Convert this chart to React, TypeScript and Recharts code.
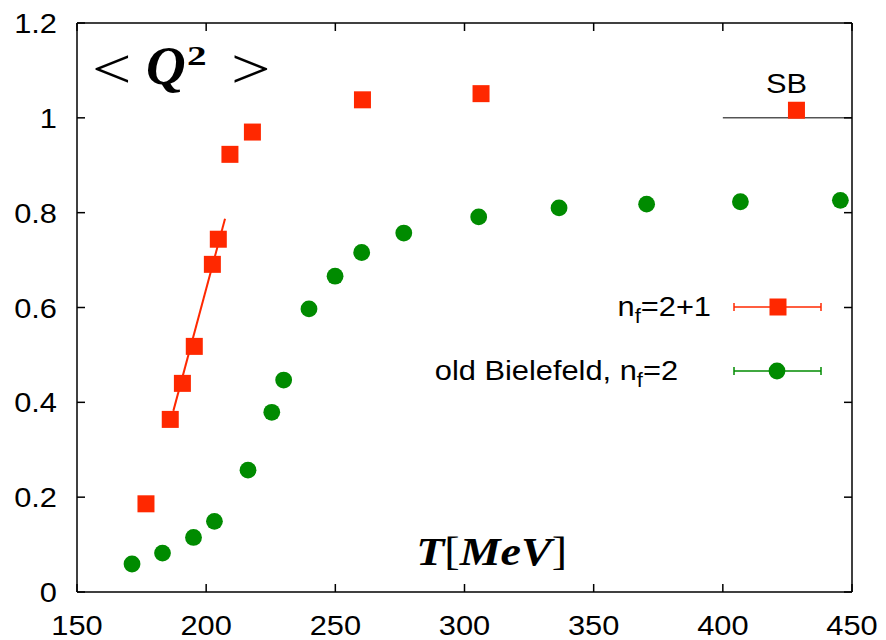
import React from 'react';
import { ScatterChart, Scatter, XAxis, YAxis, ReferenceLine, Legend, Label } from 'recharts';

// n_f = 2+1 (red squares)
const nf21T = [176.7, 186.1, 190.8, 195.4, 202.4, 204.7, 209.2, 217.9, 260.5, 306.4, 428.5];
const nf21Q = [0.186, 0.364, 0.44, 0.518, 0.691, 0.744, 0.923, 0.97, 1.038, 1.051, 1.016];

// old Bielefeld, n_f = 2 (green circles)
const bieT = [171.3, 183.1, 195.1, 203.2, 216.2, 225.4, 230.0, 239.8, 249.9, 260.2, 276.5, 305.5, 336.6, 370.5, 406.8, 445.5];
const bieQ = [0.059, 0.082, 0.115, 0.149, 0.257, 0.379, 0.447, 0.597, 0.666, 0.716, 0.757, 0.791, 0.81, 0.818, 0.823, 0.826];

// linear fit through the transition region
const fitT = [187.3, 207.3];
const fitQ = [0.382, 0.787];

// Stefan-Boltzmann limit
const sbT = [400, 450];
const sbQ = 1;

const xTicks = [150, 200, 250, 300, 350, 400, 450];
const yTicks = [0, 0.2, 0.4, 0.6, 0.8, 1, 1.2];

const RED = '#ff2800';
const GREEN = '#008b00';
const SANS = '"Liberation Sans", Arial, Helvetica, sans-serif';
const SERIF = '"Liberation Serif", "Times New Roman", serif';
const PLOT_TOP = 23;
const PLOT_RIGHT = 852;
const TICK = 8;

const nf21 = nf21T.map((T, i) => ({ T, Q: nf21Q[i] }));
const bie = bieT.map((T, i) => ({ T, Q: bieQ[i] }));
const fit = fitT.map((T, i) => ({ T, Q: fitQ[i] }));

const Square = (props: any) => {
  const { cx, cy } = props;
  return <rect x={cx - 8.5} y={cy - 8.5} width={17} height={17} fill={RED} />;
};

const Dot = (props: any) => {
  const { cx, cy } = props;
  return <circle cx={cx} cy={cy} r={8.4} fill={GREEN} />;
};

const Nothing = () => <g />;

const XTick = (props: any) => {
  const { x, y, payload } = props;
  return (
    <g>
      <line x1={x} x2={x} y1={y} y2={y - TICK} stroke="#000" strokeWidth={1.5} />
      <line x1={x} x2={x} y1={PLOT_TOP} y2={PLOT_TOP + TICK} stroke="#000" strokeWidth={1.5} />
      <text
        transform={`translate(${x},${y + 43}) scale(1.1,1)`}
        textAnchor="middle"
        fontFamily={SANS}
        fontSize={28}
        fill="#000"
      >
        {payload.value}
      </text>
    </g>
  );
};

const YTick = (props: any) => {
  const { x, y, payload } = props;
  return (
    <g>
      <line x1={x} x2={x + TICK} y1={y} y2={y} stroke="#000" strokeWidth={1.5} />
      <line x1={PLOT_RIGHT} x2={PLOT_RIGHT - TICK} y1={y} y2={y} stroke="#000" strokeWidth={1.5} />
      <text
        transform={`translate(${x - 20},${y + 10}) scale(1.1,1)`}
        textAnchor="end"
        fontFamily={SANS}
        fontSize={28}
        fill="#000"
      >
        {String(payload.value)}
      </text>
    </g>
  );
};

const XTitle = (props: any) => {
  const { viewBox } = props;
  const cx = viewBox.x + viewBox.width * 0.535;
  const by = viewBox.y - 27;
  return (
    <text
      transform={`translate(${cx},${by}) scale(1.15,1)`}
      textAnchor="middle"
      fontFamily={SERIF}
      fontSize={40}
      fill="#000"
    >
      <tspan fontWeight="bold" fontStyle="italic">T</tspan>
      <tspan>[</tspan>
      <tspan fontWeight="bold" fontStyle="italic">MeV</tspan>
      <tspan>]</tspan>
    </text>
  );
};

const YTitle = (props: any) => {
  const { viewBox } = props;
  const left = viewBox.x + viewBox.width;
  const top = viewBox.y;
  return (
    <g fontFamily={SERIF} fill="#000">
      <text transform={`translate(${left + 15},${top + 65}) scale(1.25,1)`} fontSize={56}>&lt;</text>
      <text x={left + 69} y={top + 61} fontSize={55} fontWeight="bold" fontStyle="italic">Q</text>
      <text transform={`translate(${left + 110},${top + 42}) scale(1.4,1)`} fontSize={28} fontWeight="bold">2</text>
      <text transform={`translate(${left + 154},${top + 65}) scale(1.25,1)`} fontSize={56}>&gt;</text>
    </g>
  );
};

const SBLabel = (props: any) => {
  const { viewBox } = props;
  return (
    <text
      transform={`translate(${viewBox.x + viewBox.width / 2 - 1},${viewBox.y - 25}) scale(1.1,1)`}
      textAnchor="middle"
      fontFamily={SANS}
      fontSize={28}
      fill="#000"
    >
      SB
    </text>
  );
};

const legendRows = [
  { main: 'n', sub: 'f', rest: '=2+1', color: RED, marker: 'square', textEnd: 711, y: 307 },
  { main: 'old Bielefeld, n', sub: 'f', rest: '=2', color: GREEN, marker: 'circle', textEnd: 678, y: 371 },
];

const renderLegend = () => (
  <svg width={886} height={640} style={{ display: 'block' }}>
    {legendRows.map((r) => (
      <g key={r.rest}>
        <text
          transform={`translate(${r.textEnd},${r.y + 9}) scale(1.1,1)`}
          textAnchor="end"
          fontFamily={SANS}
          fontSize={28}
          fill="#000"
        >
          <tspan>{r.main}</tspan>
          <tspan fontSize={20} dy={7}>{r.sub}</tspan>
          <tspan dy={-7}>{r.rest}</tspan>
        </text>
        <line x1={734} x2={821} y1={r.y} y2={r.y} stroke={r.color} strokeWidth={1.5} />
        <line x1={734} x2={734} y1={r.y - 4} y2={r.y + 4} stroke={r.color} strokeWidth={1.5} />
        <line x1={821} x2={821} y1={r.y - 4} y2={r.y + 4} stroke={r.color} strokeWidth={1.5} />
        {r.marker === 'square' ? (
          <rect x={778 - 8.5} y={r.y - 8.5} width={17} height={17} fill={r.color} />
        ) : (
          <circle cx={777} cy={r.y} r={8.4} fill={r.color} />
        )}
      </g>
    ))}
  </svg>
);

export default function App() {
  return (
    <div style={{ position: 'absolute', left: 0, top: 0, width: 886, height: 640, background: '#fff' }}>
      <ScatterChart width={886} height={640} margin={{ top: 23, right: 34, bottom: 8, left: 17 }}>
        <XAxis
          type="number"
          dataKey="T"
          domain={[150, 450]}
          ticks={xTicks}
          height={40}
          tickSize={0}
          tickMargin={0}
          tickLine={false}
          axisLine={{ stroke: '#000', strokeWidth: 1.5 }}
          tick={<XTick />}
          interval={0}
        >
          <Label content={<XTitle />} />
        </XAxis>
        <YAxis
          type="number"
          dataKey="Q"
          domain={[0, 1.2]}
          ticks={yTicks}
          width={60}
          tickSize={0}
          tickMargin={0}
          tickLine={false}
          axisLine={{ stroke: '#000', strokeWidth: 1.5 }}
          tick={<YTick />}
          interval={0}
        >
          <Label content={<YTitle />} />
        </YAxis>
        <ReferenceLine y={1.2} stroke="#000" strokeWidth={1.5} />
        <ReferenceLine x={450} stroke="#000" strokeWidth={1.5} />
        <ReferenceLine
          segment={[{ x: sbT[0], y: sbQ }, { x: sbT[1], y: sbQ }]}
          stroke="#000"
          strokeWidth={1}
          label={<SBLabel />}
        />
        <Scatter
          name="fit"
          data={fit}
          line={{ stroke: RED, strokeWidth: 2 }}
          shape={<Nothing />}
          legendType="none"
          isAnimationActive={false}
        />
        <Scatter name="n_f=2+1" data={nf21} shape={<Square />} isAnimationActive={false} />
        <Scatter name="old Bielefeld, n_f=2" data={bie} shape={<Dot />} isAnimationActive={false} />
        <Legend
          layout="horizontal"
          verticalAlign="middle"
          align="center"
          content={renderLegend}
          wrapperStyle={{ left: 0, top: 0, width: 886, height: 640, pointerEvents: 'none' }}
        />
      </ScatterChart>
    </div>
  );
}
